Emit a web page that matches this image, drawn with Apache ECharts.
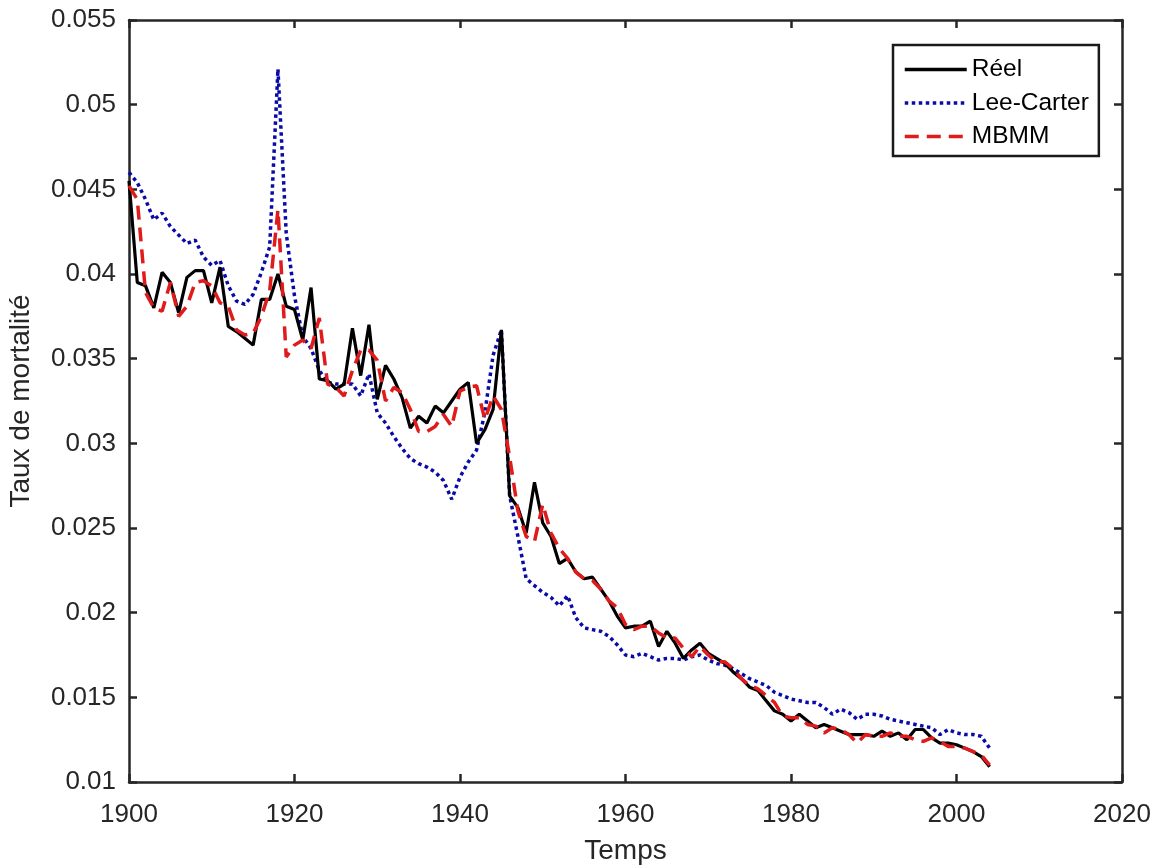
<!DOCTYPE html>
<html>
<head>
<meta charset="utf-8">
<script src="https://cdn.jsdelivr.net/npm/echarts@6/dist/echarts.min.js"></script>
<style>
html,body{margin:0;padding:0;background:#fff;}
#chart{width:1162px;height:867px;}
</style>
</head>
<body>
<div id="chart"></div>
<script>
const years = [1900,1901,1902,1903,1904,1905,1906,1907,1908,1909,1910,1911,1912,1913,1914,1915,1916,1917,1918,1919,
1920,1921,1922,1923,1924,1925,1926,1927,1928,1929,1930,1931,1932,1933,1934,1935,1936,1937,1938,1939,
1940,1941,1942,1943,1944,1945,1946,1947,1948,1949,1950,1951,1952,1953,1954,1955,1956,1957,1958,1959,
1960,1961,1962,1963,1964,1965,1966,1967,1968,1969,1970,1971,1972,1973,1974,1975,1976,1977,1978,1979,
1980,1981,1982,1983,1984,1985,1986,1987,1988,1989,1990,1991,1992,1993,1994,1995,1996,1997,1998,1999,
2000,2001,2002,2003,2004];

const reel = [0.0455,0.0395,0.0393,0.0380,0.0401,0.0395,0.0377,0.0398,0.0402,0.0402,
0.0383,0.0404,0.0369,0.0366,0.0362,0.0358,0.0385,0.0385,0.0400,0.0381,
0.0379,0.0361,0.0392,0.0338,0.0337,0.0332,0.0335,0.0368,0.0340,0.0370,
0.0326,0.0346,0.0338,0.0327,0.0309,0.0316,0.0312,0.0322,0.0318,0.0325,
0.0332,0.0336,0.0300,0.0308,0.0320,0.0367,0.0269,0.0262,0.0247,0.0277,
0.0253,0.0245,0.0229,0.0232,0.0224,0.0220,0.0221,0.0214,0.0207,0.0198,
0.0191,0.0192,0.0192,0.0195,0.0180,0.0189,0.0182,0.0173,0.0178,0.0182,
0.0176,0.0173,0.0170,0.0165,0.0161,0.0156,0.0154,0.0148,0.0142,0.0140,
0.0136,0.0140,0.0136,0.0132,0.0134,0.0132,0.0130,0.0128,0.0128,0.0128,
0.0127,0.0130,0.0127,0.0129,0.0125,0.0131,0.0131,0.0126,0.0123,0.0123,
0.0122,0.0120,0.0118,0.0115,0.0109];

const leeCarter = [0.0460,0.0454,0.0444,0.0432,0.0436,0.0428,0.0423,0.0418,0.0420,0.0410,
0.0405,0.0408,0.0393,0.0384,0.0382,0.0388,0.0401,0.0416,0.0521,0.0424,
0.0387,0.0363,0.0356,0.0343,0.0336,0.0335,0.0335,0.0335,0.0328,0.0341,
0.0318,0.0312,0.0304,0.0297,0.0291,0.0288,0.0286,0.0283,0.0278,0.0267,
0.0280,0.0289,0.0296,0.0318,0.0352,0.0367,0.0269,0.0245,0.0220,0.0216,
0.0212,0.0209,0.0204,0.0210,0.0197,0.0191,0.0190,0.0189,0.0186,0.0181,
0.0175,0.0174,0.0176,0.0174,0.0172,0.0173,0.0173,0.0172,0.0174,0.0175,
0.0172,0.0170,0.0169,0.0167,0.0164,0.0161,0.0159,0.0157,0.0153,0.0151,
0.0149,0.0148,0.0147,0.0147,0.0144,0.0140,0.0143,0.0141,0.0137,0.0140,
0.0140,0.0139,0.0137,0.0136,0.0135,0.0134,0.0133,0.0132,0.0128,0.0131,
0.0129,0.0128,0.0128,0.0127,0.0120];

const mbmm = [0.0452,0.0444,0.0389,0.0380,0.0378,0.0395,0.0375,0.0381,0.0395,0.0396,
0.0393,0.0383,0.0381,0.0367,0.0364,0.0365,0.0375,0.0390,0.0438,0.0351,
0.0358,0.0361,0.0356,0.0374,0.0335,0.0333,0.0328,0.0343,0.0355,0.0355,
0.0349,0.0325,0.0333,0.0330,0.0320,0.0307,0.0307,0.0310,0.0317,0.0310,
0.0331,0.0333,0.0334,0.0314,0.0328,0.0320,0.0292,0.0260,0.0245,0.0242,
0.0264,0.0247,0.0238,0.0232,0.0224,0.0220,0.0219,0.0214,0.0207,0.0203,
0.0193,0.0190,0.0192,0.0192,0.0188,0.0185,0.0185,0.0179,0.0174,0.0180,
0.0175,0.0171,0.0171,0.0167,0.0161,0.0157,0.0155,0.0151,0.0147,0.0139,
0.0138,0.0138,0.0134,0.0133,0.0129,0.0132,0.0131,0.0128,0.0123,0.0128,
0.0127,0.0127,0.0129,0.0127,0.0127,0.0125,0.0124,0.0126,0.0124,0.0121,
0.0121,0.0120,0.0118,0.0116,0.0110];

const seriesNames = ['Réel','Lee-Carter','MBMM'];
const xTickLabels = ['1900','1920','1940','1960','1980','2000','2020'];
const yTickLabels = ['0.01','0.015','0.02','0.025','0.03','0.035','0.04','0.045','0.05','0.055'];

const pairs = arr => years.map((y,i)=>[y, arr[i]]);
const axisColor = '#262626';
const font = 'Liberation Sans, Arial, Helvetica, sans-serif';

const chart = echarts.init(document.getElementById('chart'), null, {renderer:'canvas'});
const baseX = {
  type:'value', min:1900, max:2020, interval:20,
  axisLine:{show:true, onZero:false, lineStyle:{color:axisColor, width:2.5}},
  axisTick:{show:true, inside:true, length:8, lineStyle:{color:axisColor, width:2.5}},
  splitLine:{show:false}
};
const baseY = {
  type:'value', min:0.01, max:0.055, interval:0.005,
  axisLine:{show:true, onZero:false, lineStyle:{color:axisColor, width:2.5}},
  axisTick:{show:true, inside:true, length:8, lineStyle:{color:axisColor, width:2.5}},
  splitLine:{show:false}
};
chart.setOption({
  backgroundColor:'#fff',
  animation:false,
  grid:{left:129, right:40, top:20, bottom:85, containLabel:false, outerBoundsMode:'none'},
  legend:{
    orient:'vertical', left:893, top:45,
    data:seriesNames,
    backgroundColor:'#fff', borderColor:'#1a1a1a', borderWidth:2.5,
    padding:[12,10,7,10], itemGap:8.5, itemWidth:62, itemHeight:14,
    itemStyle:{opacity:0},
    lineStyle:{width:3.5},
    textStyle:{fontFamily:font, fontSize:24.5, lineHeight:25, color:'#000'}
  },
  xAxis:[
    Object.assign({}, baseX, {
      position:'bottom',
      name:'Temps', nameLocation:'middle', nameGap:55,
      nameTextStyle:{fontFamily:font, fontSize:28, color:axisColor},
      axisLabel:{fontFamily:font, fontSize:26, color:axisColor, margin:20,
        formatter:(v)=>xTickLabels[Math.round((v-1900)/20)]}
    }),
    Object.assign({}, baseX, {position:'top', axisLabel:{show:false}})
  ],
  yAxis:[
    Object.assign({}, baseY, {
      position:'left',
      name:'Taux de mortalité', nameLocation:'middle', nameGap:94,
      nameTextStyle:{fontFamily:font, fontSize:28, color:axisColor},
      axisLabel:{fontFamily:font, fontSize:26, color:axisColor, margin:13,
        formatter:(v)=>yTickLabels[Math.round((v-0.01)/0.005)]}
    }),
    Object.assign({}, baseY, {position:'right', axisLabel:{show:false}})
  ],
  series:[
    {name:seriesNames[0], type:'line', data:pairs(reel), symbol:'none', z:3,
      lineStyle:{color:'#000', width:3.2, type:'solid'}, itemStyle:{color:'#000'}},
    {name:seriesNames[1], type:'line', data:pairs(leeCarter), symbol:'none', z:2,
      lineStyle:{color:'#0a0aa8', width:3.5, type:[3.5,3.5]}, itemStyle:{color:'#0a0aa8'}},
    {name:seriesNames[2], type:'line', data:pairs(mbmm), symbol:'none', z:4,
      lineStyle:{color:'#e01b1b', width:3.5, type:[14,8]}, itemStyle:{color:'#e01b1b'}}
  ]
});
</script>
</body>
</html>
